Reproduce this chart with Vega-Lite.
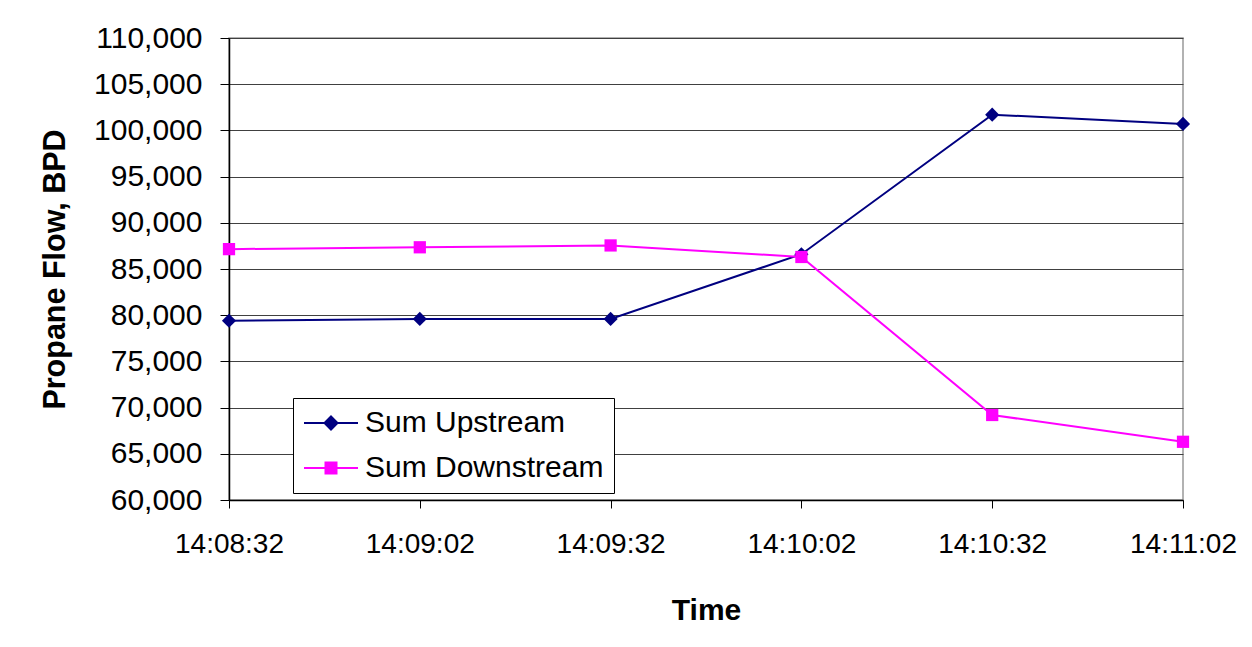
{
  "$schema": "https://vega.github.io/schema/vega-lite/v6.json",
  "width": 954,
  "height": 462,
  "autosize": "none",
  "padding": {"left": 229, "top": 38, "right": 69, "bottom": 147},
  "background": "white",
  "config": {
    "font": "Liberation Sans",
    "view": {"stroke": "#999999", "strokeWidth": 1.5},
    "axis": {"labelColor": "black", "titleColor": "black", "labelFont": "Liberation Sans", "titleFont": "Liberation Sans"}
  },
  "data": {
    "values": [
      {"time": "14:08:32", "series": "Sum Upstream", "flow": 79400},
      {"time": "14:09:02", "series": "Sum Upstream", "flow": 79600},
      {"time": "14:09:32", "series": "Sum Upstream", "flow": 79600},
      {"time": "14:10:02", "series": "Sum Upstream", "flow": 86600},
      {"time": "14:10:32", "series": "Sum Upstream", "flow": 101700},
      {"time": "14:11:02", "series": "Sum Upstream", "flow": 100700},
      {"time": "14:08:32", "series": "Sum Downstream", "flow": 87150},
      {"time": "14:09:02", "series": "Sum Downstream", "flow": 87350},
      {"time": "14:09:32", "series": "Sum Downstream", "flow": 87550},
      {"time": "14:10:02", "series": "Sum Downstream", "flow": 86300},
      {"time": "14:10:32", "series": "Sum Downstream", "flow": 69200},
      {"time": "14:11:02", "series": "Sum Downstream", "flow": 66300}
    ]
  },
  "encoding": {
    "x": {
      "field": "time", "type": "ordinal", "sort": null,
      "scale": {"type": "point", "padding": 0},
      "axis": {
        "title": "Time", "titleFontSize": 30, "titleFontWeight": "bold", "titlePadding": 37,
        "labelFontSize": 28, "labelAngle": 0, "labelPadding": 22,
        "tickSize": 8, "tickColor": "black", "domainColor": "black", "domainWidth": 1.5,
        "grid": false
      }
    },
    "y": {
      "field": "flow", "type": "quantitative",
      "scale": {"domain": [60000, 110000], "nice": false, "zero": false},
      "axis": {
        "title": "Propane Flow, BPD", "titleFontSize": 30.5, "titleFontWeight": "bold", "titlePadding": 23,
        "labelFontSize": 30, "labelPadding": 18, "format": ",d",
        "values": [60000, 65000, 70000, 75000, 80000, 85000, 90000, 95000, 100000, 105000, 110000],
        "tickSize": 9, "tickColor": "black", "domainColor": "black", "domainWidth": 1.5,
        "grid": true, "gridColor": "#404040", "gridWidth": 1
      }
    },
    "color": {
      "field": "series", "type": "nominal",
      "scale": {"domain": ["Sum Upstream", "Sum Downstream"], "range": ["#000080", "#FF00FF"]},
      "legend": {
        "title": null, "orient": "none", "legendX": 64, "legendY": 360,
        "padding": 10, "strokeColor": "black", "fillColor": "white",
        "labelFontSize": 30, "labelFont": "Liberation Sans", "labelColor": "black", "labelLimit": 0,
        "symbolSize": 400, "symbolOffset": 13, "labelOffset": 19, "rowPadding": 15,
        "encode": {
          "symbols": {
            "update": {
              "shape": {"signal": "datum.value === 'Sum Upstream' ? 'M-2.7,0H2.7M0,-0.65L0.65,0L0,0.65L-0.65,0Z' : 'M-2.7,0H2.7M-0.55,-0.55H0.55V0.55H-0.55Z'"},
              "fill": {"signal": "datum.value === 'Sum Upstream' ? '#000080' : '#FF00FF'"},
              "stroke": {"signal": "datum.value === 'Sum Upstream' ? '#000080' : '#FF00FF'"},
              "strokeWidth": {"value": 2},
              "opacity": {"value": 1},
              "fillOpacity": {"value": 1}
            }
          }
        }
      }
    }
  },
  "layer": [
    {
      "mark": {"type": "line", "strokeWidth": 2}
    },
    {
      "transform": [{"filter": "datum.series === 'Sum Upstream'"}],
      "mark": {"type": "point", "shape": "diamond", "filled": true, "opacity": 1, "size": 200}
    },
    {
      "transform": [{"filter": "datum.series === 'Sum Downstream'"}],
      "mark": {"type": "point", "shape": "square", "filled": true, "opacity": 1, "size": 150}
    }
  ]
}
